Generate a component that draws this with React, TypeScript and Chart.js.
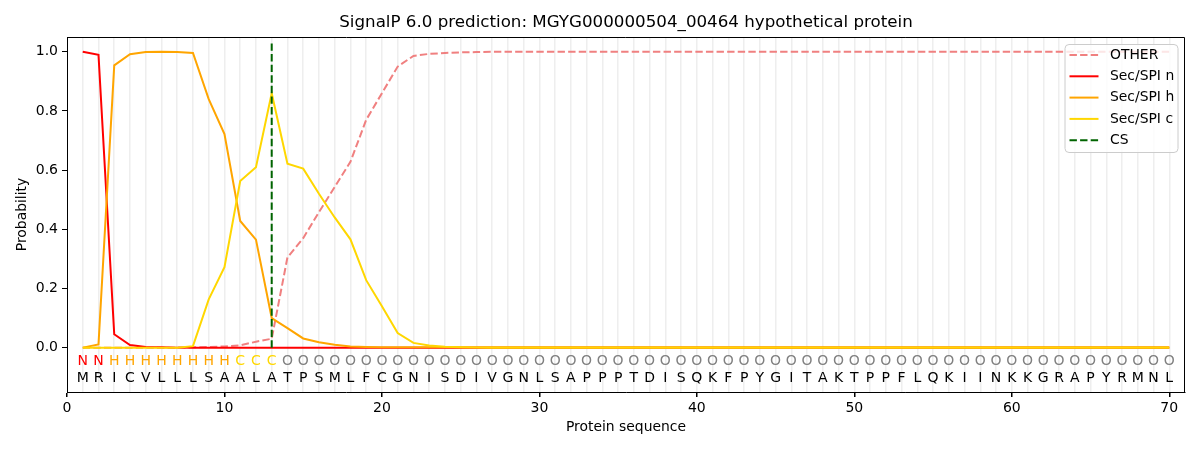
import { useEffect, useRef } from "react";
import { Chart, registerables } from "chart.js";

Chart.register(...registerables);

// protein sequence and predicted region per residue
const residues = "MRICVLLLSAALATPSMLFCGNISDIVGNLSAPPPTDISQKFPYGITAKTPPFLQKIINKKGRAPYRMNL".split("");
const regions = "NNHHHHHHHHCCCOOOOOOOOOOOOOOOOOOOOOOOOOOOOOOOOOOOOOOOOOOOOOOOOOOOOOOOOO".split("");
const positions = residues.map((_, i) => i + 1);

const otherProb = [
    0, 0, 0, 0, 0, 0, 0, 0.001, 0.002, 0.004,
    0.008, 0.02, 0.03, 0.305, 0.37, 0.458, 0.543, 0.628, 0.77, 0.86,
    0.95, 0.986, 0.993, 0.996, 0.998, 0.999, 1, 1, 1, 1,
    1, 1, 1, 1, 1, 1, 1, 1, 1, 1,
    1, 1, 1, 1, 1, 1, 1, 1, 1, 1,
    1, 1, 1, 1, 1, 1, 1, 1, 1, 1,
    1, 1, 1, 1, 1, 1, 1, 1, 1, 1,
];
const secN = [
    1, 0.99, 0.045, 0.009, 0.002, 0.001, 0, 0, 0, 0,
    0, 0, 0, 0, 0, 0, 0, 0, 0, 0,
    0, 0, 0, 0, 0, 0, 0, 0, 0, 0,
    0, 0, 0, 0, 0, 0, 0, 0, 0, 0,
    0, 0, 0, 0, 0, 0, 0, 0, 0, 0,
    0, 0, 0, 0, 0, 0, 0, 0, 0, 0,
    0, 0, 0, 0, 0, 0, 0, 0, 0, 0,
];
const secH = [
    0, 0.011, 0.954, 0.992, 0.999, 1, 0.999, 0.996, 0.84, 0.722,
    0.428, 0.365, 0.1, 0.066, 0.031, 0.018, 0.01, 0.004, 0.002, 0.001,
    0.001, 0.001, 0.001, 0.001, 0.001, 0.001, 0.001, 0.001, 0.001, 0.001,
    0.001, 0.001, 0.001, 0.001, 0.001, 0.001, 0.001, 0.001, 0.001, 0.001,
    0.001, 0.001, 0.001, 0.001, 0.001, 0.001, 0.001, 0.001, 0.001, 0.001,
    0.001, 0.001, 0.001, 0.001, 0.001, 0.001, 0.001, 0.001, 0.001, 0.001,
    0.001, 0.001, 0.001, 0.001, 0.001, 0.001, 0.001, 0.001, 0.001, 0.001,
];
const secC = [
    0, 0, 0, 0, 0, 0, 0, 0.005, 0.163, 0.272,
    0.563, 0.61, 0.86, 0.622, 0.605, 0.52, 0.44, 0.366, 0.228, 0.14,
    0.049, 0.016, 0.007, 0.003, 0.001, 0, 0, 0, 0, 0,
    0, 0, 0, 0, 0, 0, 0, 0, 0, 0,
    0, 0, 0, 0, 0, 0, 0, 0, 0, 0,
    0, 0, 0, 0, 0, 0, 0, 0, 0, 0,
    0, 0, 0, 0, 0, 0, 0, 0, 0, 0,
];
const cleavageSite = 13;

const yTicks = [0, 0.2, 0.4, 0.6, 0.8, 1.0];
const xTickLabels = [0, 10, 20, 30, 40, 50, 60, 70];

const regionColors: Record<string, string> = { N: "red", H: "orange", C: "gold", O: "grey" };
const FONT = "'DejaVu Sans', sans-serif";
const TITLE = "SignalP 6.0 prediction: MGYG000000504_00464 hypothetical protein";

const toPoints = (values: number[]) => positions.map((p, i) => ({ x: p, y: values[i] }));

const decorations = {
    id: "decorations",
    afterDatasetsDraw(chart: any) {
        const { ctx, chartArea, scales } = chart;
        const x = scales.x;
        const y = scales.y;
        ctx.save();
        ctx.font = `14px ${FONT}`;
        ctx.textAlign = "center";
        ctx.textBaseline = "middle";
        residues.forEach((r, i) => {
            const px = x.getPixelForValue(positions[i]);
            ctx.fillStyle = regionColors[regions[i]];
            ctx.fillText(regions[i], px, y.getPixelForValue(-0.048));
            ctx.fillStyle = "#000";
            ctx.fillText(r, px, y.getPixelForValue(-0.103));
        });
        // top and right spines
        ctx.strokeStyle = "#000";
        ctx.lineWidth = 1;
        ctx.beginPath();
        ctx.moveTo(chartArea.left, chartArea.top + 0.5);
        ctx.lineTo(chartArea.right - 0.5, chartArea.top + 0.5);
        ctx.lineTo(chartArea.right - 0.5, chartArea.bottom);
        ctx.stroke();
        ctx.restore();
    },
    afterDraw(chart: any) {
        const { ctx, chartArea } = chart;
        const cx = (chartArea.left + chartArea.right) / 2;
        ctx.save();
        ctx.fillStyle = "#000";
        ctx.textAlign = "center";
        ctx.textBaseline = "middle";
        ctx.font = `16.7px ${FONT}`;
        ctx.fillText(TITLE, cx, 23);
        ctx.font = `13.9px ${FONT}`;
        ctx.fillText("Protein sequence", cx, 427);
        ctx.save();
        ctx.translate(22, (chartArea.top + chartArea.bottom) / 2);
        ctx.rotate(-Math.PI / 2);
        ctx.fillText("Probability", 0, 0);
        ctx.restore();

        // legend box
        const right = chartArea.right - 7;
        const top = chartArea.top + 7.5;
        const w = 113;
        const h = 108;
        const left = right - w;
        ctx.beginPath();
        ctx.roundRect(left, top, w, h, 4);
        ctx.fillStyle = "rgba(255,255,255,0.8)";
        ctx.fill();
        ctx.strokeStyle = "#cccccc";
        ctx.lineWidth = 1;
        ctx.stroke();
        ctx.textAlign = "left";
        chart.data.datasets.forEach((ds: any, i: number) => {
            const ry = top + 10.5 + i * 21.3;
            ctx.beginPath();
            ctx.setLineDash(ds.borderDash || []);
            ctx.strokeStyle = ds.borderColor;
            ctx.lineWidth = 2;
            ctx.moveTo(left + 4.5, ry);
            ctx.lineTo(left + 33.5, ry);
            ctx.stroke();
            ctx.setLineDash([]);
            ctx.fillStyle = "#000";
            ctx.fillText(ds.label, left + 45, ry);
        });
        ctx.restore();
    },
};

const App = () => {
    const canvasRef = useRef<HTMLCanvasElement | null>(null);

    useEffect(() => {
        document.body.style.margin = "0";
        if (!canvasRef.current) return;
        const ctx = canvasRef.current.getContext("2d");
        if (!ctx) return;

        const line = { pointRadius: 0, borderWidth: 2, tension: 0, fill: false };

        const chartInstance = new Chart(ctx, {
            type: "line",
            data: {
                datasets: [
                    { ...line, label: "OTHER", data: toPoints(otherProb), borderColor: "#f08080", borderDash: [7.4, 3.2], order: 4 },
                    { ...line, label: "Sec/SPI n", data: toPoints(secN), borderColor: "red", order: 3 },
                    { ...line, label: "Sec/SPI h", data: toPoints(secH), borderColor: "orange", order: 2 },
                    { ...line, label: "Sec/SPI c", data: toPoints(secC), borderColor: "gold", order: 1 },
                    {
                        ...line,
                        label: "CS",
                        data: [{ x: cleavageSite, y: 0 }, { x: cleavageSite, y: 1.035 }],
                        borderColor: "#006400",
                        borderDash: [7.4, 3.2],
                        order: 0,
                    },
                ],
            },
            options: {
                animation: false,
                responsive: false,
                maintainAspectRatio: false,
                devicePixelRatio: 1,
                layout: { padding: { top: 37, right: 15, left: 0, bottom: 0 } },
                plugins: {
                    legend: { display: false },
                    tooltip: { enabled: false },
                },
                scales: {
                    x: {
                        type: "linear",
                        min: 0,
                        max: 71,
                        afterFit: (s: any) => { s.height = 58; },
                        ticks: {
                            stepSize: 1,
                            autoSkip: false,
                            maxRotation: 0,
                            padding: 3,
                            color: "#000",
                            font: { family: FONT, size: 14 },
                            callback: (v: any) => (xTickLabels.includes(Number(v)) ? String(v) : ""),
                        },
                        grid: {
                            color: (c: any) => (c.tick && c.tick.value >= 1 && c.tick.value <= 70 ? "#eeeeee" : "rgba(0,0,0,0)"),
                            tickColor: (c: any) => (c.tick && xTickLabels.includes(c.tick.value) ? "#000" : "rgba(0,0,0,0)"),
                            lineWidth: 1.5,
                            tickLength: 5,
                        },
                        border: { display: true, color: "#000", width: 1 },
                    },
                    y: {
                        type: "linear",
                        min: -0.15,
                        max: 1.05,
                        afterFit: (s: any) => { s.width = 67; },
                        afterBuildTicks: (s: any) => { s.ticks = yTicks.map((v) => ({ value: v })); },
                        ticks: {
                            padding: 4,
                            color: "#000",
                            font: { family: FONT, size: 14 },
                            callback: (v: any) => Number(v).toFixed(1),
                        },
                        grid: { drawOnChartArea: false, tickColor: "#000", tickLength: 5 },
                        border: { display: true, color: "#000", width: 1 },
                    },
                },
            },
            plugins: [decorations],
        });

        return () => {
            chartInstance.destroy();
        };
    }, []);

    return (
        <div style={{ width: 1200, height: 450 }}>
            <canvas ref={canvasRef} width={1200} height={450} style={{ display: "block" }}></canvas>
        </div>
    );
};

export default App;
